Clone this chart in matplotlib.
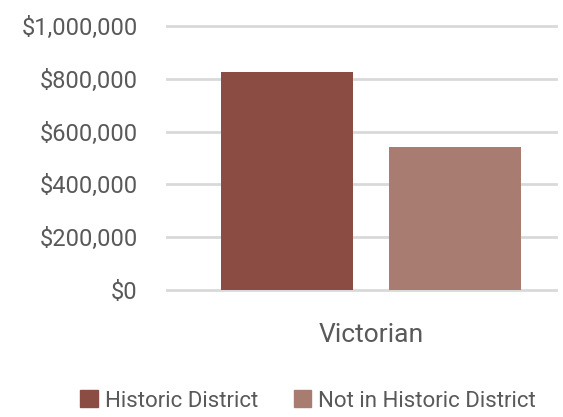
import matplotlib.pyplot as plt
from matplotlib.ticker import FuncFormatter
from matplotlib.patches import Patch

categories = ['Victorian']
series_names = ['Historic District', 'Not in Historic District']
values = [825000, 542000]
colors = ['#8B4C44', '#A97C71']

plt.rcParams['font.family'] = ['Roboto', 'DejaVu Sans']
text_color = '#595959'

fig = plt.figure(figsize=(5.63, 4.17), dpi=100)
# plot area in pixels: x 167..556, y 26..290
ax = fig.add_axes([167 / 563, 1 - 290 / 417, 389 / 563, 264 / 417])

bar_w = 132 / 389
gap = 36 / 389
offsets = [-(bar_w + gap) / 2, (bar_w + gap) / 2]
for i, name in enumerate(series_names):
    ax.bar(0 + offsets[i], values[i], width=bar_w, color=colors[i], label=name, zorder=3)

ax.set_xlim(-0.524, 0.476)
ax.set_ylim(0, 1000000)
ax.set_yticks(range(0, 1000001, 200000))
ax.yaxis.set_major_formatter(FuncFormatter(lambda v, p: '${:,.0f}'.format(v)))
ax.set_xticks([0])
ax.set_xticklabels(categories, fontsize=19)
ax.tick_params(axis='both', length=0, colors=text_color)
ax.tick_params(axis='y', labelsize=17, pad=21)
ax.tick_params(axis='x', pad=24)
ax.grid(axis='y', color='#D9D9D9', linewidth=2, zorder=0)
for gl in ax.get_ygridlines():
    gl.set_clip_on(False)
for s in ax.spines.values():
    s.set_visible(False)

handles = [Patch(color=c, label=n) for c, n in zip(colors, series_names)]
fig.legend(handles=handles, loc='center', bbox_to_anchor=(308 / 563, 1 - 401 / 417), ncol=2,
           frameon=False, fontsize=16, labelcolor=text_color, handlelength=0.8,
           handleheight=0.8, handletextpad=0.3, columnspacing=1.6)

fig.savefig('out.png', dpi=100)
